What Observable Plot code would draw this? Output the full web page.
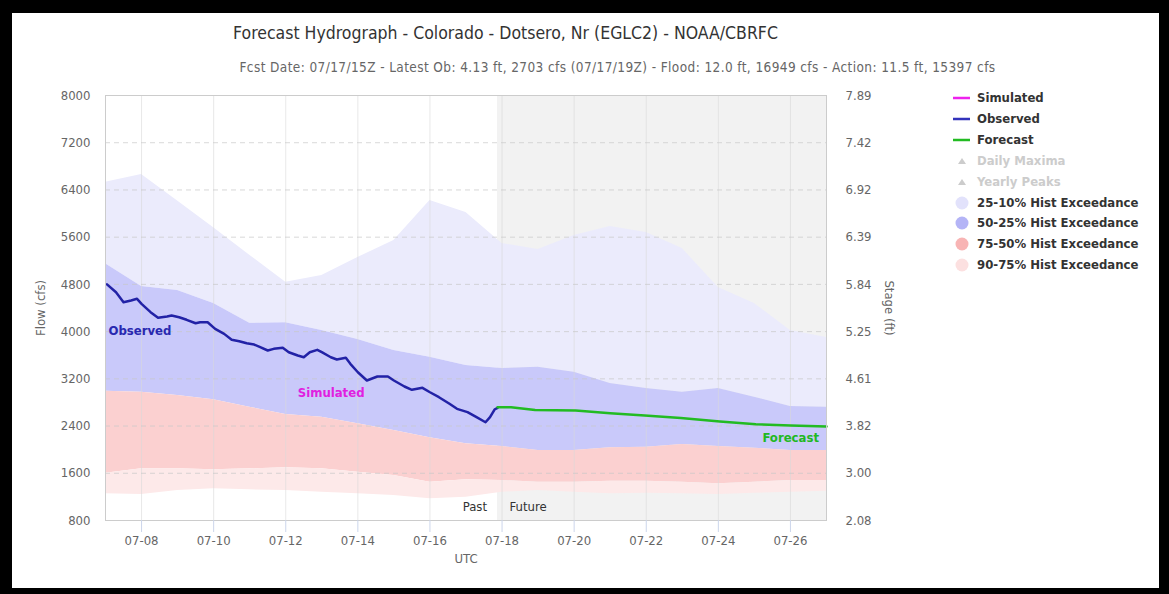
<!DOCTYPE html>
<html><head><meta charset="utf-8">
<script src="https://cdn.jsdelivr.net/npm/d3@7"></script>
<script src="https://cdn.jsdelivr.net/npm/@observablehq/plot@0.6"></script>
<style>
html,body{margin:0;padding:0;width:1169px;height:594px;overflow:hidden;background:#000;}
#frame{position:absolute;left:12px;top:13px;width:1147px;height:575px;background:#fff;}
.txt{position:absolute;white-space:nowrap;font-family:"DejaVu Sans Condensed","Liberation Sans",sans-serif;}
#title{left:0;top:23px;width:1011px;text-align:center;font-size:17.5px;color:#333;}
#subtitle{left:0;top:59px;width:1235px;text-align:center;font-size:13.5px;letter-spacing:0.4px;color:#666;}
#chart{position:absolute;left:0;top:82px;}
.leg{position:absolute;left:948px;height:18px;font-family:"DejaVu Sans Condensed",sans-serif;font-size:13px;font-weight:bold;color:#333;white-space:nowrap;}
.leg svg{position:absolute;left:0;top:0;}
.leg span{position:absolute;left:29px;top:1px;}
</style></head>
<body>
<div id="frame"></div>
<div id="title" class="txt">Forecast Hydrograph - Colorado - Dotsero, Nr (EGLC2) - NOAA/CBRFC</div>
<div id="subtitle" class="txt">Fcst Date: 07/17/15Z - Latest Ob: 4.13 ft, 2703 cfs (07/17/19Z) - Flood: 12.0 ft, 16949 cfs - Action: 11.5 ft, 15397 cfs</div>
<div id="chart"></div>
<div id="legend"></div>
<script>
// ---------- data ----------
const year = "2019-";
const bandDates = ["07-07T00","07-08T00","07-09T00","07-10T00","07-11T00","07-12T00","07-13T00","07-14T00","07-15T00","07-16T00","07-17T00","07-18T00","07-19T00","07-20T00","07-21T00","07-22T00","07-23T00","07-24T00","07-25T00","07-26T00","07-27T00"];
const exc10 = [6531,6661,6213,5761,5293,4837,4950,5255,5543,6221,6018,5492,5391,5628,5780,5679,5408,4747,4476,4019,3900];
const exc25 = [5149,4764,4696,4476,4142,4149,4019,3866,3680,3566,3426,3375,3397,3312,3121,3036,2973,3036,2889,2731,2719];
const exc50 = [2990,2973,2918,2845,2719,2596,2550,2438,2324,2201,2099,2054,1986,1986,2032,2042,2087,2054,2025,1986,1986];
const exc75 = [1601,1676,1676,1659,1676,1693,1676,1618,1562,1449,1489,1478,1449,1449,1466,1466,1449,1422,1449,1478,1478];
const exc90 = [1252,1240,1308,1337,1320,1308,1279,1252,1224,1168,1195,1279,1308,1279,1252,1262,1252,1240,1262,1279,1296];

const obsDates = ["07-07T01","07-07T07","07-07T12","07-07T17","07-07T21","07-08T00","07-08T06","07-08T11","07-08T17","07-08T20",
"07-09T01","07-09T06","07-09T12","07-09T15","07-09T20","07-10T01","07-10T07","07-10T12","07-10T17","07-10T22",
"07-11T03","07-11T07","07-11T12","07-11T16","07-11T22","07-12T02","07-12T08","07-12T12","07-12T16","07-12T21",
"07-13T00","07-13T06","07-13T10","07-13T16","07-13T19","07-14T00","07-14T06","07-14T13","07-14T20","07-15T00",
"07-15T07","07-15T12","07-15T19","07-16T00","07-16T06","07-16T13","07-16T18","07-17T01","07-17T07","07-17T13",
"07-17T16","07-17T19","07-17T21"];
const obsFlow = [4800,4667,4498,4527,4556,4471,4329,4234,4256,4273,
4244,4200,4142,4159,4159,4047,3962,3861,3837,3803,
3781,3736,3680,3708,3725,3651,3595,3566,3651,3691,
3651,3566,3527,3556,3454,3312,3172,3239,3239,3172,
3070,3014,3048,2973,2889,2777,2692,2635,2550,2465,
2550,2680,2709];

const fcstDates = ["07-17T21","07-18T06","07-18T22","07-20T01","07-21T00","07-21T23","07-22T23","07-24T01","07-25T01","07-26T00","07-27T00"];
const fcstFlow = [2719,2719,2672,2663,2618,2579,2536,2477,2431,2409,2392];

const flowTicks = [800,1600,2400,3200,4000,4800,5600,6400,7200,8000];
const stageLabels = ["2.08","3.00","3.82","4.61","5.25","5.84","6.39","6.92","7.42","7.89"];
const dateTicks = ["07-08T00","07-10T00","07-12T00","07-14T00","07-16T00","07-18T00","07-20T00","07-22T00","07-24T00","07-26T00"];
const domainDates = ["07-07T00","07-27T00"];
const futureStart = "07-17T21";

const seriesLabels = [
  {text:"Observed", date:"07-07T02", flow:4020, color:"#2828b0"},
  {text:"Simulated", date:"07-12T08", flow:2968, color:"#e020e0"}
];
const forecastLabel = [{text:"Forecast", date:"07-26T19", flow:2206, color:"#22b822"}];
const pastLabel = [{text:"Past", date:"07-17T14", flow:1037}];
const futureLabel = [{text:"Future", date:"07-18T05", flow:1037}];

const legendItems = [
  {label:"Simulated", kind:"line", color:"#ee22ee", text:"#333"},
  {label:"Observed", kind:"line", color:"#3333bb", text:"#333"},
  {label:"Forecast", kind:"line", color:"#22bb22", text:"#333"},
  {label:"Daily Maxima", kind:"tri", color:"#cccccc", text:"#cccccc"},
  {label:"Yearly Peaks", kind:"tri", color:"#cccccc", text:"#cccccc"},
  {label:"25-10% Hist Exceedance", kind:"dot", color:"#e2e2fb", text:"#333"},
  {label:"50-25% Hist Exceedance", kind:"dot", color:"#b4b4f6", text:"#333"},
  {label:"75-50% Hist Exceedance", kind:"dot", color:"#f8b4b4", text:"#333"},
  {label:"90-75% Hist Exceedance", kind:"dot", color:"#fce0e0", text:"#333"}
];

// ---------- build ----------
const P = s => new Date(year + s + ":00Z");
const bands = bandDates.map((d,i)=>({date:P(d), e10:exc10[i], e25:exc25[i], e50:exc50[i], e75:exc75[i], e90:exc90[i]}));
const obs = obsDates.map((d,i)=>({date:P(d), flow:obsFlow[i]}));
const fcst = fcstDates.map((d,i)=>({date:P(d), flow:fcstFlow[i]}));
const future = [{start:P(futureStart), end:P(domainDates[1]), lo:flowTicks[0], hi:flowTicks[flowTicks.length-1]}];
const xTicks = dateTicks.map(P);
const stageMap = new Map(flowTicks.map((f,i)=>[f, stageLabels[i]]));
const withDate = arr => arr.map(a=>({...a, d:P(a.date)}));
const font = '"DejaVu Sans Condensed","Liberation Sans",sans-serif';

const chart = Plot.plot({
  width: 940, height: 490,
  marginLeft: 105, marginRight: 114, marginTop: 13, marginBottom: 52,
  x: {type:"utc", domain: domainDates.map(P)},
  y: {domain:[800, 8000]},
  style: {fontFamily: font, fontSize:"13px", color:"#666", background:"transparent", overflow:"visible"},
  marks: [
    Plot.rect(future, {x1:"start", x2:"end", y1:"lo", y2:"hi", fill:"#f2f2f2"}),
    Plot.areaY(bands, {x:"date", y1:"e25", y2:"e10", fill:"#ebebfc"}),
    Plot.areaY(bands, {x:"date", y1:"e50", y2:"e25", fill:"#c9c9fa"}),
    Plot.areaY(bands, {x:"date", y1:"e75", y2:"e50", fill:"#fbd0d0"}),
    Plot.areaY(bands, {x:"date", y1:"e90", y2:"e75", fill:"#fde9e9"}),
    Plot.gridX(xTicks, {stroke:"#d8d8d8", strokeOpacity:0.6}),
    Plot.gridY(flowTicks.slice(1,-1), {stroke:"#c8c8c8", strokeOpacity:0.7, strokeDasharray:"5,4"}),
    Plot.line(obs, {x:"date", y:"flow", stroke:"#2222a6", strokeWidth:2.5}),
    Plot.line(fcst, {x:"date", y:"flow", stroke:"#22bb22", strokeWidth:2.5}),
    Plot.frame({stroke:"#cccccc"}),
    Plot.axisX(xTicks, {tickFormat: d3.utcFormat("%m-%d"), tickSize:12, tickPadding:3, stroke:"#ccd6eb", strokeOpacity:1, fill:"#666", label:"UTC", labelAnchor:"center", labelOffset:42, labelArrow:"none"}),
    Plot.axisY(flowTicks, {anchor:"left", tickSize:0, tickPadding:15, tickFormat: d=>String(d), fill:"#666", label:"Flow (cfs)", labelAnchor:"center", labelOffset:70, labelArrow:"none"}),
    Plot.axisY(flowTicks, {anchor:"right", tickSize:0, tickPadding:19, tickFormat: d=>stageMap.get(d), fill:"#666", label:null}),
    Plot.text(["Stage (ft)"], {frameAnchor:"right", textAnchor:"middle", dx:63, rotate:90, fill:"#666", fontSize:13}),
    Plot.text(withDate(seriesLabels), {x:"d", y:"flow", text:"text", fill:"color", textAnchor:"start", fontWeight:"bold", fontSize:13}),
    Plot.text(withDate(forecastLabel), {x:"d", y:"flow", text:"text", fill:"color", textAnchor:"end", fontWeight:"bold", fontSize:13}),
    Plot.text(withDate(pastLabel), {x:"d", y:"flow", text:"text", fill:"#333", textAnchor:"end", fontSize:13}),
    Plot.text(withDate(futureLabel), {x:"d", y:"flow", text:"text", fill:"#333", textAnchor:"start", fontSize:13})
  ]
});
document.getElementById("chart").appendChild(chart);

// legend
const leg = document.getElementById("legend");
const rowTop = 89, rowStep = 20.9;
legendItems.forEach((it,i)=>{
  const div = document.createElement("div");
  div.className = "leg";
  div.style.top = (rowTop + i*rowStep) + "px";
  let sym = "";
  if (it.kind === "line") sym = `<svg width="24" height="18"><line x1="5" x2="22" y1="9" y2="9" stroke="${it.color}" stroke-width="2.5"/></svg>`;
  else if (it.kind === "tri") sym = `<svg width="24" height="18"><path d="M14,6 L18,12 L10,12 Z" fill="${it.color}"/></svg>`;
  else sym = `<svg width="24" height="18"><circle cx="14" cy="9" r="6.5" fill="${it.color}"/></svg>`;
  div.innerHTML = sym + `<span style="color:${it.text}">${it.label}</span>`;
  leg.appendChild(div);
});
</script>
</body></html>
